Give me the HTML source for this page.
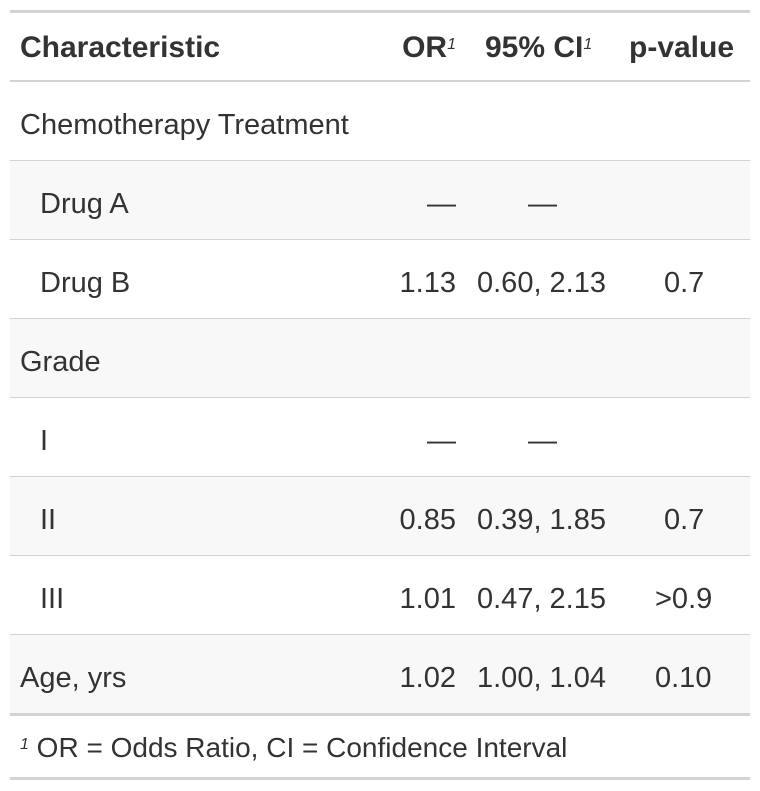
<!DOCTYPE html>
<html><head><style>
body{margin:0;width:760px;height:791px;background:#fff;font-family:"Liberation Sans",sans-serif;color:#333;position:relative;overflow:hidden}
.r{position:absolute;left:10px;width:740px;border-bottom:1px solid #d3d3d3}
.s{background:#f8f8f8}
.t{position:absolute;font-size:29px;line-height:30px;white-space:nowrap}
.b{font-weight:bold;font-size:30px}
.l{position:absolute;left:10px;width:740px;background:#d3d3d3}
sup{font-size:16px;font-style:italic;vertical-align:top;position:relative;top:-3px;font-weight:normal}
</style></head><body>
<div class="l" style="top:10px;height:3px"></div>
<div class="l" style="top:80px;height:2px"></div>
<div class="r" style="top:82px;height:78px"></div>
<div class="r s" style="top:161px;height:78px"></div>
<div class="r" style="top:240px;height:78px"></div>
<div class="r s" style="top:319px;height:78px"></div>
<div class="r" style="top:398px;height:78px"></div>
<div class="r s" style="top:477px;height:78px"></div>
<div class="r" style="top:556px;height:78px"></div>
<div class="r s" style="top:635px;height:78px;border-bottom:none"></div>
<div class="l" style="top:713px;height:3px"></div>
<div class="l" style="top:777px;height:3px"></div>

<div class="t b" style="left:20px;top:33px">Characteristic</div>
<div class="t b" style="right:304px;top:33px">OR<sup>1</sup></div>
<div class="t b" style="left:485px;top:33px">95% CI<sup>1</sup></div>
<div class="t b" style="left:629px;top:33px">p-value</div>

<div class="t" style="left:20px;top:110px">Chemotherapy Treatment</div>
<div class="t" style="left:40px;top:189px">Drug A</div>
<div class="t" style="right:304px;top:189px">—</div>
<div class="t" style="left:528px;top:189px">—</div>
<div class="t" style="left:40px;top:268px">Drug B</div>
<div class="t" style="right:304px;top:268px">1.13</div>
<div class="t" style="left:477px;top:268px">0.60, 2.13</div>
<div class="t" style="left:664px;top:268px">0.7</div>
<div class="t" style="left:20px;top:347px">Grade</div>
<div class="t" style="left:40px;top:426px">I</div>
<div class="t" style="right:304px;top:426px">—</div>
<div class="t" style="left:528px;top:426px">—</div>
<div class="t" style="left:40px;top:505px">II</div>
<div class="t" style="right:304px;top:505px">0.85</div>
<div class="t" style="left:477px;top:505px">0.39, 1.85</div>
<div class="t" style="left:664px;top:505px">0.7</div>
<div class="t" style="left:40px;top:584px">III</div>
<div class="t" style="right:304px;top:584px">1.01</div>
<div class="t" style="left:477px;top:584px">0.47, 2.15</div>
<div class="t" style="left:655px;top:584px">&gt;0.9</div>
<div class="t" style="left:20px;top:663px">Age, yrs</div>
<div class="t" style="right:304px;top:663px">1.02</div>
<div class="t" style="left:477px;top:663px">1.00, 1.04</div>
<div class="t" style="left:655px;top:663px">0.10</div>

<div class="t" style="left:20px;top:733px;font-size:28px"><sup>1</sup> OR = Odds Ratio, CI = Confidence Interval</div>
</body></html>
